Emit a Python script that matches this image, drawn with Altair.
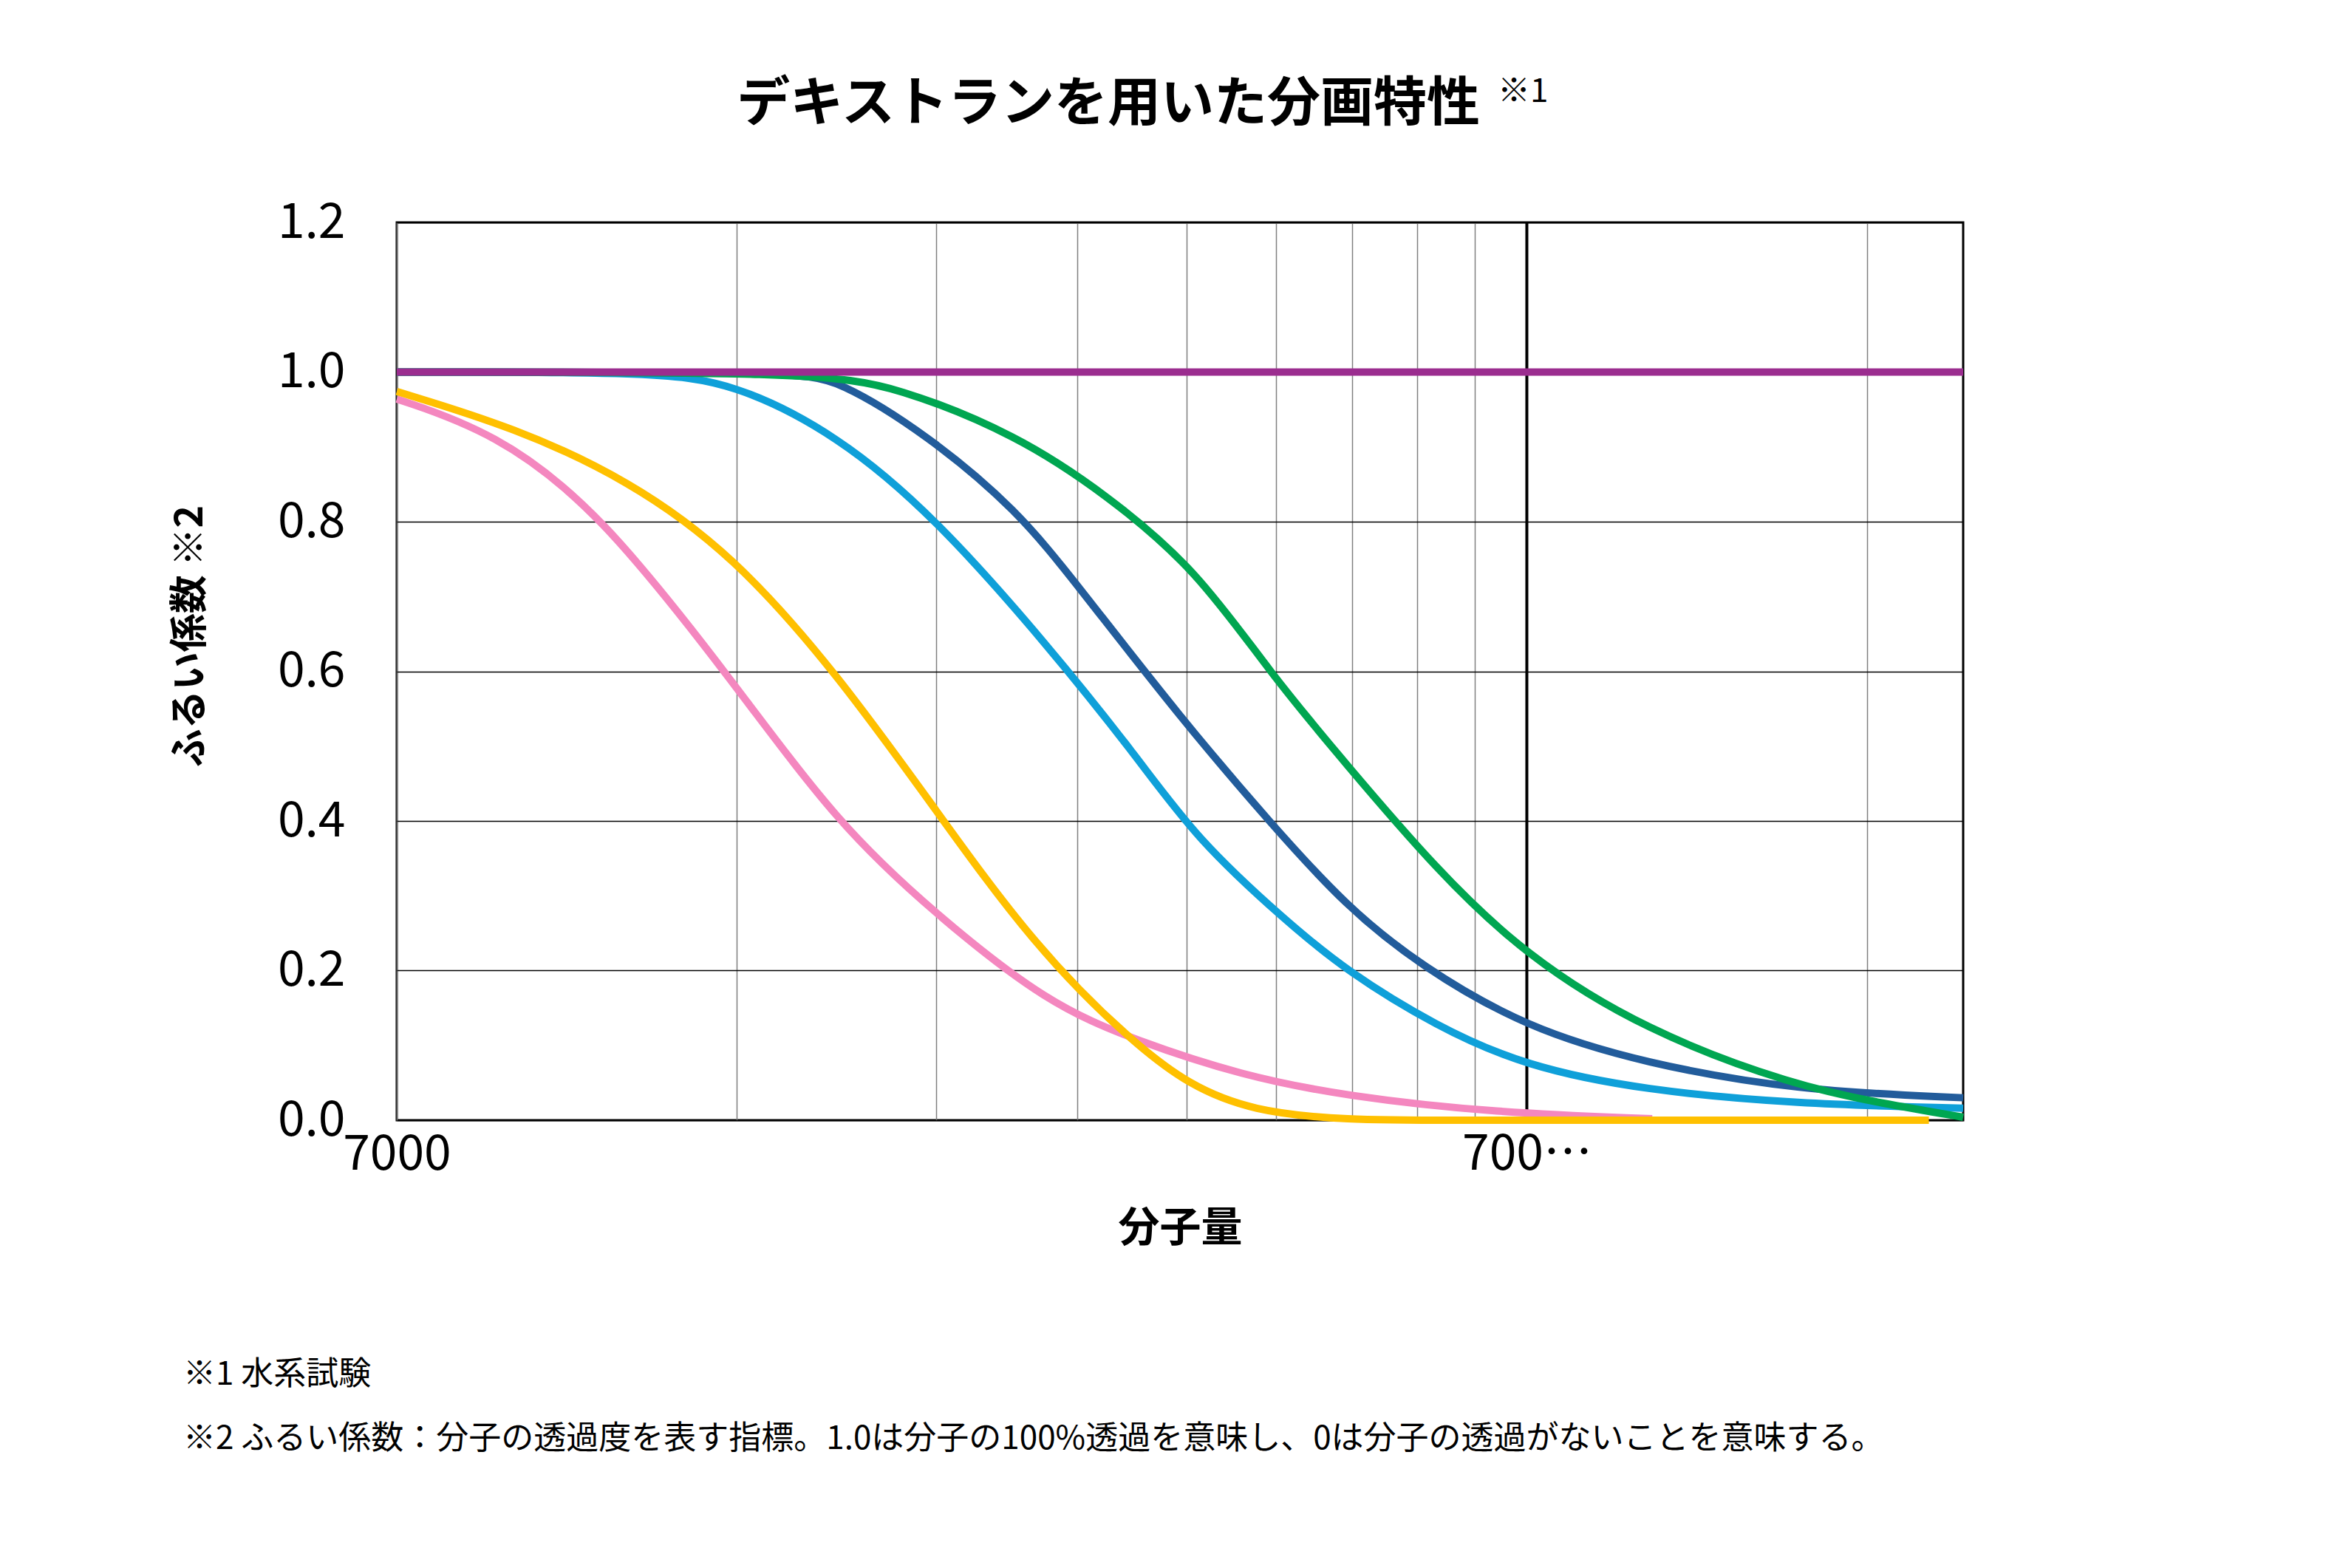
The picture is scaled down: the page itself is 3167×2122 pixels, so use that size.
import pandas as pd
import altair as alt

FONT = "Noto Sans CJK JP"

# molecular weight (x) and sieving coefficient (y)
purple_x = [7000, 170300]
purple_y = [1.0, 1.0]

pink_x = [7000, 8530, 10560, 13890, 17190, 20960, 26340, 31620, 39130, 48430, 65670, 90370]
pink_y = [0.964, 0.92, 0.816, 0.586, 0.396, 0.276, 0.156, 0.106, 0.06, 0.032, 0.01, 0.002]

yellow_x = [7000, 8900, 11220, 13890, 17190, 20960, 25550, 31620, 38890, 60000, 100000, 158800]
yellow_y = [0.974, 0.926, 0.856, 0.756, 0.596, 0.416, 0.236, 0.096, 0.0, 0.0, 0.0, 0.0]

lblue_x = [7000, 11740, 13890, 17190, 20960, 26340, 31620, 35710, 42870, 48430, 58130, 69790, 89040, 120800, 170300]
lblue_y = [1.0, 1.0, 0.986, 0.916, 0.806, 0.636, 0.486, 0.376, 0.266, 0.2, 0.126, 0.072, 0.04, 0.022, 0.016]

dblue_x = [7000, 15690, 17190, 20640, 24770, 27990, 34640, 41580, 48430, 56390, 69790, 89040, 120800, 170300]
dblue_y = [1.0, 1.0, 0.99, 0.916, 0.816, 0.716, 0.536, 0.396, 0.286, 0.206, 0.124, 0.076, 0.04, 0.03]

green_x = [7000, 16420, 19420, 24770, 29740, 35710, 41580, 48430, 58130, 69790, 89040, 120800, 145000, 170300]
green_y = [1.0, 1.0, 0.98, 0.916, 0.836, 0.736, 0.596, 0.476, 0.336, 0.22, 0.12, 0.046, 0.022, 0.004]

series = ["pink", "yellow", "lblue", "dblue", "green", "purple"]
colors = ["#F487BF", "#FFC000", "#0FA0D9", "#225C9B", "#00A651", "#9B2D8F"]
xs = [pink_x, yellow_x, lblue_x, dblue_x, green_x, purple_x]
ys = [pink_y, yellow_y, lblue_y, dblue_y, green_y, purple_y]

rows = []
for i, (name, xv, yv) in enumerate(zip(series, xs, ys)):
    for j, (a, b) in enumerate(zip(xv, yv)):
        rows.append({"series": name, "order": i, "idx": j, "mw": a, "coef": b})
df = pd.DataFrame(rows)

grid_vals = [7000 * k for k in range(1, 11)] + [140000]

W, H = 2120, 1215

xscale = alt.Scale(type="log", domain=[7000, 170300], nice=False)
yscale = alt.Scale(domain=[0, 1.2], nice=False)

lines = alt.Chart(df).mark_line(strokeWidth=10, interpolate="basis").encode(
    x=alt.X(
        "mw:Q",
        scale=xscale,
        title="分子量",
        axis=alt.Axis(
            values=grid_vals,
            labelExpr="datum.value == 7000 || datum.value == 70000 ? datum.value : ''",
            labelFlush=False,
            grid=True,
            gridColor="#808080",
            gridWidth=1.5,
            ticks=False,
            domain=False,
            labelFontSize=66,
            labelFont=FONT,
            labelColor="#000",
            labelPadding=14,
            titleFontSize=56,
            titleFont=FONT,
            titleFontWeight="bold",
            titleColor="#000",
            titlePadding=40,
        ),
    ),
    y=alt.Y(
        "coef:Q",
        scale=yscale,
        title=None,
        axis=alt.Axis(
            values=[0, 0.2, 0.4, 0.6, 0.8, 1.0, 1.2],
            format=".1f",
            grid=True,
            gridColor="#000",
            gridWidth=1.5,
            ticks=False,
            domain=False,
            labelFontSize=66,
            labelFont=FONT,
            labelColor="#000",
            labelPadding=70,
        ),
    ),
    color=alt.Color("series:N", scale=alt.Scale(domain=series, range=colors), legend=None),
    order="idx:Q",
    detail="order:Q",
)

vline = alt.Chart(pd.DataFrame({"mw": [70000]})).mark_rule(color="#000", strokeWidth=4).encode(
    x=alt.X("mw:Q", scale=xscale)
)

title = alt.Chart(pd.DataFrame({"t": ["デキストランを用いた分画特性"]})).mark_text(
    font=FONT, fontSize=72, fontWeight="bold", align="right", baseline="middle", color="#000"
).encode(text="t:N", x=alt.value(1466), y=alt.value(-160))

title_note = alt.Chart(pd.DataFrame({"t": ["※1"]})).mark_text(
    font=FONT, fontSize=44, align="left", baseline="middle", color="#000"
).encode(text="t:N", x=alt.value(1490), y=alt.value(-176))

ytitle = alt.Chart(pd.DataFrame({"t": ["ふるい係数 ※2"]})).mark_text(
    font=FONT, fontSize=52, fontWeight="bold", angle=270, align="center", baseline="middle", color="#000"
).encode(text="t:N", x=alt.value(-279), y=alt.value(560))

notes = ["※1  水系試験",
         "※2 ふるい係数：分子の透過度を表す指標。1.0は分子の100%透過を意味し、0は分子の透過がないことを意味する。"]
note1 = alt.Chart(pd.DataFrame({"t": [notes[0]]})).mark_text(
    font=FONT, fontSize=44, align="left", baseline="middle", color="#000"
).encode(text="t:N", x=alt.value(-289), y=alt.value(1560))
note2 = alt.Chart(pd.DataFrame({"t": [notes[1]]})).mark_text(
    font=FONT, fontSize=44, align="left", baseline="middle", color="#000"
).encode(text="t:N", x=alt.value(-289), y=alt.value(1647))

chart = alt.layer(vline, lines, title, title_note, ytitle, note1, note2).properties(
    width=W, height=H, background="white",
    padding={"left": 224, "top": 95, "right": 40, "bottom": 40},
).configure_view(stroke="#000", strokeWidth=3)

chart.save("out.html", embed_options={"renderer": "svg", "actions": False})
